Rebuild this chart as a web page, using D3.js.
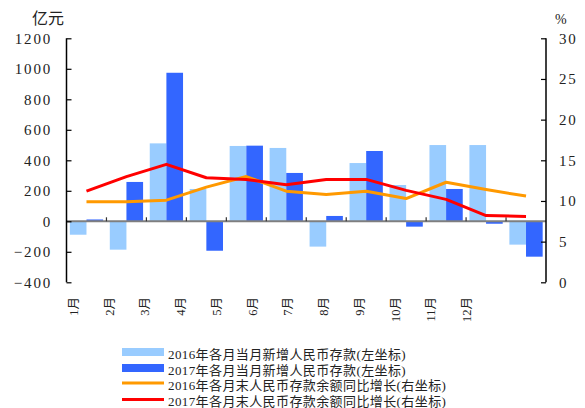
<!DOCTYPE html>
<html><head><meta charset="utf-8">
<script src="https://cdn.jsdelivr.net/npm/d3@7/dist/d3.min.js"></script>
<style>
body{margin:0;background:#fff;}
text{font-family:"Liberation Serif","Noto Sans CJK SC",serif;fill:#222;}
</style></head>
<body><svg id="c" width="585" height="408"></svg>
<script>
const months = ["1月","2月","3月","4月","5月","6月","7月","8月","9月","10月","11月","12月"];
const new2016 = [-88,-186,511,212,494,481,-166,382,238,500,500,-153];
const new2017 = [12,258,974,-193,496,317,35,461,-35,212,-16,-232];
const growth2016 = [9.9,9.9,10.1,11.7,13.0,11.2,10.8,11.2,10.3,12.3,11.4,10.6];
const growth2017 = [11.2,13.0,14.5,12.85,12.65,12.0,12.65,12.65,11.3,10.2,8.2,8.1];
const leftTicks = [-400,-200,0,200,400,600,800,1000,1200];
const rightTicks = [0,5,10,15,20,25,30];
const legendLabels = ["2016年各月当月新增人民币存款(左坐标)","2017年各月当月新增人民币存款(左坐标)","2016年各月末人民币存款余额同比增长(右坐标)","2017年各月末人民币存款余额同比增长(右坐标)"];

const svg = d3.select("#c");
const L = 66.5, R = 546, T = 38.3, B = 282.3;
const x = d3.scaleBand().domain(months).range([L,R]).paddingInner(0.167).paddingOuter(0.0835);
const xs = d3.scaleBand().domain([0,1]).range([0,x.bandwidth()]).padding(0);
const yL = d3.scaleLinear().domain([-400,1200]).range([B,T]);
const yR = d3.scaleLinear().domain([0,30]).range([B,T]);
const xLab = d3.scalePoint().domain(months).range([74,467]);

// bars
const series = [{v:new2016,c:"#99CCFF"},{v:new2017,c:"#3366FF"}];
series.forEach((s,si)=>{
  svg.append("g").selectAll("rect").data(months).join("rect")
    .attr("x",d=>x(d)+xs(si))
    .attr("width",xs.bandwidth())
    .attr("y",(d,i)=>yL(Math.max(0,s.v[i])))
    .attr("height",(d,i)=>Math.abs(yL(s.v[i])-yL(0)))
    .attr("fill",s.c);
});

// zero line
svg.append("line").attr("x1",L).attr("x2",R).attr("y1",yL(0)).attr("y2",yL(0))
  .attr("stroke","#7f7f7f").attr("stroke-width",2);
// x ticks
svg.append("g").selectAll("line").data(months.slice(1)).join("line")
  .attr("x1",d=>x(d)-x.step()*x.paddingInner()/2).attr("x2",d=>x(d)-x.step()*x.paddingInner()/2)
  .attr("y1",yL(0)).attr("y2",yL(0)-4).attr("stroke","#333").attr("stroke-width",1.2);

// lines
const line = d3.line().x((d,i)=>x(months[i])+x.bandwidth()/2).y(d=>yR(d));
svg.append("path").datum(growth2016).attr("d",line).attr("fill","none")
  .attr("stroke","#FF9900").attr("stroke-width",3).attr("stroke-linejoin","round");
svg.append("path").datum(growth2017).attr("d",line).attr("fill","none")
  .attr("stroke","#FF0000").attr("stroke-width",3).attr("stroke-linejoin","round");

// left axis
const axL = d3.axisRight(yL).tickValues(leftTicks).tickSize(5).tickFormat("");
const gL = svg.append("g").attr("transform",`translate(${L},0)`).call(axL);
gL.select(".domain").remove();
gL.selectAll(".tick line").attr("stroke","#000").attr("stroke-width",1.2);
svg.append("line").attr("x1",L).attr("x2",L).attr("y1",T).attr("y2",B).attr("stroke","#000").attr("stroke-width",1.5);
svg.append("g").selectAll("text").data(leftTicks).join("text")
  .attr("x",52).attr("y",d=>yL(d)).attr("dy","0.35em").attr("text-anchor","end")
  .attr("font-size",15).attr("letter-spacing",1.8)
  .text(d=>d<0?"−"+Math.abs(d):d);

// right axis
const axR = d3.axisLeft(yR).tickValues(rightTicks).tickSize(5).tickFormat("");
const gR = svg.append("g").attr("transform",`translate(${R},0)`).call(axR);
gR.select(".domain").remove();
gR.selectAll(".tick line").attr("stroke","#000").attr("stroke-width",1.2);
svg.append("line").attr("x1",R).attr("x2",R).attr("y1",T).attr("y2",B).attr("stroke","#000").attr("stroke-width",1.5);
svg.append("g").selectAll("text").data(rightTicks).join("text")
  .attr("x",559).attr("y",d=>yR(d)).attr("dy","0.35em").attr("text-anchor","start")
  .attr("font-size",15).attr("letter-spacing",1.8).text(d=>d);

// titles
svg.append("text").attr("x",32).attr("y",24).attr("font-size",16).text("亿元");
svg.append("text").attr("x",555).attr("y",24).attr("font-size",14).text("%");

// month labels
svg.append("g").selectAll("text").data(months).join("text")
  .attr("transform",d=>`translate(${xLab(d)+4},297) rotate(-90)`)
  .attr("text-anchor","end").attr("font-size",12.5).text(d=>d);

// legend
const lg = svg.append("g");
const ly = [352,368,383,399.5];
[0,1].forEach(i=>{
  lg.append("rect").attr("x",122).attr("y",ly[i]-4).attr("width",42).attr("height",8).attr("fill",series[i].c);
});
[["#FF9900",2],["#FF0000",3]].forEach(([c,i])=>{
  lg.append("line").attr("x1",122).attr("x2",164).attr("y1",ly[i]).attr("y2",ly[i]).attr("stroke",c).attr("stroke-width",3);
});
lg.selectAll("text").data(legendLabels).join("text")
  .attr("x",168).attr("y",(d,i)=>ly[i]+2).attr("dy","0.35em").attr("font-size",13).attr("letter-spacing",0.4).text(d=>d);
</script></body></html>
